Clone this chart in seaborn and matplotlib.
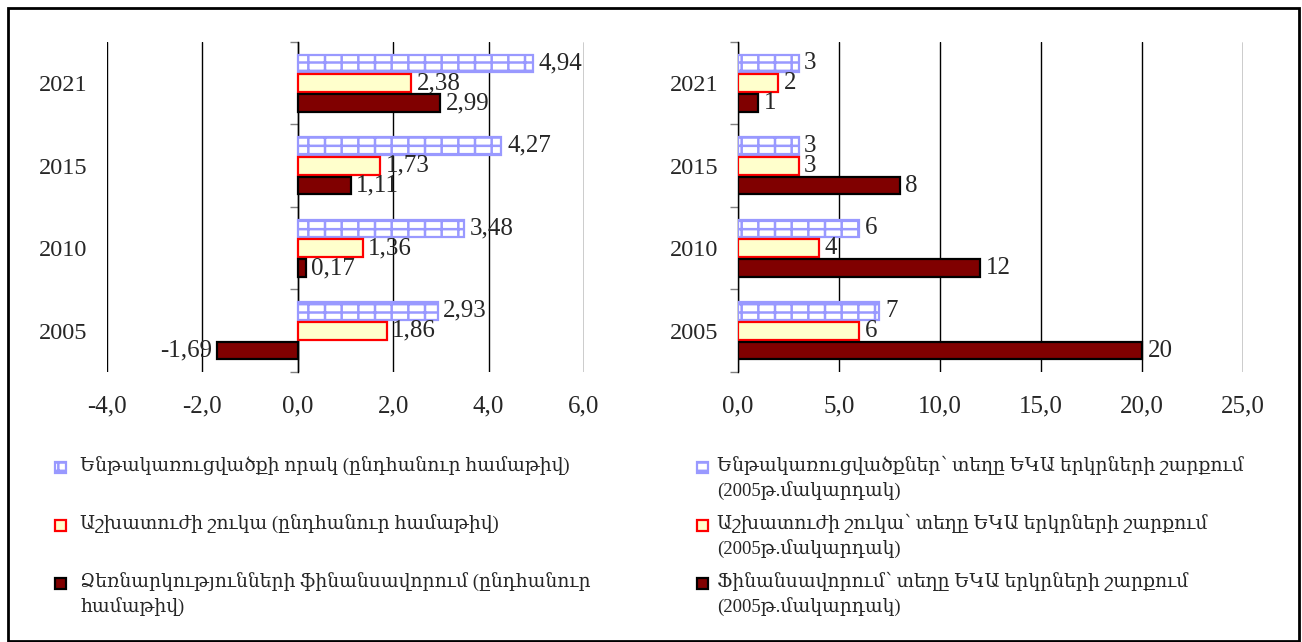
import numpy as np
import pandas as pd
import seaborn as sns
import matplotlib
matplotlib.use("Agg")
import matplotlib.pyplot as plt
from matplotlib.patches import Rectangle
from matplotlib import font_manager

# ---------------- data ----------------
years = ['2021', '2015', '2010', '2005']

left_labels = ['Ենթակառուցվածքի որակ (ընդհանուր համաթիվ)',
               'Աշխատուժի շուկա (ընդհանուր համաթիվ)',
               'Ձեռնարկությունների ֆինանսավորում (ընդհանուր\nհամաթիվ)']
left_infra = [4.94, 4.27, 3.48, 2.93]
left_labour = [2.38, 1.73, 1.36, 1.86]
left_finance = [2.99, 1.11, 0.17, -1.69]

right_labels = ['Ենթակառուցվածքներ՝ տեղը ԵԿԱ երկրների շարքում\n(2005թ.մակարդակ)',
                'Աշխատուժի շուկա՝ տեղը ԵԿԱ երկրների շարքում\n(2005թ.մակարդակ)',
                'Ֆինանսավորում՝ տեղը ԵԿԱ երկրների շարքում\n(2005թ.մակարդակ)']
right_infra = [3, 3, 6, 7]
right_labour = [2, 3, 4, 6]
right_finance = [1, 8, 12, 20]

left_xticks = [-4, -2, 0, 2, 4, 6]
left_xticklabels = ['-4,0', '-2,0', '0,0', '2,0', '4,0', '6,0']
right_xticks = [0, 5, 10, 15, 20, 25]
right_xticklabels = ['0,0', '5,0', '10,0', '15,0', '20,0', '25,0']

# ---------------- style ----------------
sns.set_theme(style='white')
available = {f.name for f in font_manager.fontManager.ttflist}
arm_fams = [f for f in ['DejaVu Serif Condensed', 'DejaVu Serif'] if f in available]
plt.rcParams['font.family'] = ['Liberation Serif'] + arm_fams
plt.rcParams['hatch.linewidth'] = 1.8
legend_fs = 15 if 'DejaVu Serif Condensed' in available else 13.5

styles = [
    dict(fc='white', ec='#9999FF', hatch='-+', lw=1.6),
    dict(fc='#FFFFCC', ec='#FF0000', hatch='', lw=1.6),
    dict(fc='#800000', ec='#000000', hatch='', lw=1.6),
]

W, H = 1302, 642
fig = plt.figure(figsize=(W / 100, H / 100), dpi=100)
fig.patch.set_facecolor('white')


def px_axes(x0, x1, y0, y1):
    return fig.add_axes([x0 / W, 1 - y1 / H, (x1 - x0) / W, (y1 - y0) / H])


ax_l = px_axes(107, 584, 42, 372)
ax_r = px_axes(738, 1243, 42, 372)


def draw(ax, series, names, fmt, xticks, xticklabels, xlim):
    df = pd.DataFrame({
        'year': np.tile(years, len(series)),
        'value': np.concatenate([np.asarray(s, float) for s in series]),
        'series': np.repeat(names, len(years)),
    })
    sns.barplot(data=df, x='value', y='year', hue='series', order=years,
                hue_order=names, orient='h', width=0.72, gap=0.1,
                errorbar=None, legend=False, ax=ax)
    for cont, st in zip(ax.containers, styles):
        for p in cont:
            p.set_facecolor(st['fc'])
            p.set_edgecolor(st['ec'])
            p.set_linewidth(st['lw'])
            p.set_hatch(st['hatch'])
            p.set_zorder(3)
        ax.bar_label(cont, labels=[fmt(v) for v in cont.datavalues],
                     padding=4, fontsize=18, zorder=4)
    ax.set_xlim(*xlim)
    ax.set_ylim(len(years) - 0.5, -0.5)
    ax.set_xticks(xticks, xticklabels)
    ax.set_xlabel('')
    ax.set_ylabel('')
    for sp in ax.spines.values():
        sp.set_visible(False)
    ax.grid(axis='x', color='black', lw=1.0)
    ax.grid(axis='y', visible=False)
    ax.set_axisbelow(True)
    ax.tick_params(axis='y', length=0, pad=14, labelsize=17.5)
    ax.tick_params(axis='x', length=0, pad=17, labelsize=18)
    # category axis drawn at x = 0 with boundary tick marks
    sec = ax.secondary_yaxis(0, transform=ax.transData)
    sec.set_yticks(np.arange(len(years) + 1) - 0.5)
    sec.set_yticklabels([])
    sec.tick_params(length=6, width=1, color='#808080')
    for sp in sec.spines.values():
        sp.set_color('black')
        sp.set_linewidth(1.0)


draw(ax_l, [left_infra, left_labour, left_finance], left_labels,
     lambda v: f'{v:.2f}'.replace('.', ','), left_xticks, left_xticklabels, (-4, 6))
draw(ax_r, [right_infra, right_labour, right_finance], right_labels,
     lambda v: f'{v:.0f}', right_xticks, right_xticklabels, (0, 25))

# ---------------- legends (two columns) ----------------
def legend_column(names, mx, tx, rows_y, fs):
    for name, st, yc in zip(names, styles, rows_y):
        r = Rectangle((mx / W, 1 - (yc + 6) / H), 11 / W, 11 / H,
                      transform=fig.transFigure, facecolor=st['fc'],
                      edgecolor=st['ec'], hatch=st['hatch'], lw=1.6)
        fig.add_artist(r)
        fig.text(tx / W, 1 - (yc - 11) / H, name, fontsize=fs, va='top',
                 ha='left', linespacing=1.38)


legend_column(left_labels, 55, 80, [467, 525, 583], legend_fs)
legend_column(right_labels, 697, 717, [467, 525, 583], legend_fs)

# outer frame
fig.add_artist(Rectangle((8 / W, 1 / H), (1299 - 8) / W, (641 - 8) / H,
                         transform=fig.transFigure, fill=False,
                         edgecolor='black', lw=2))

fig.savefig('out.png', dpi=100)
